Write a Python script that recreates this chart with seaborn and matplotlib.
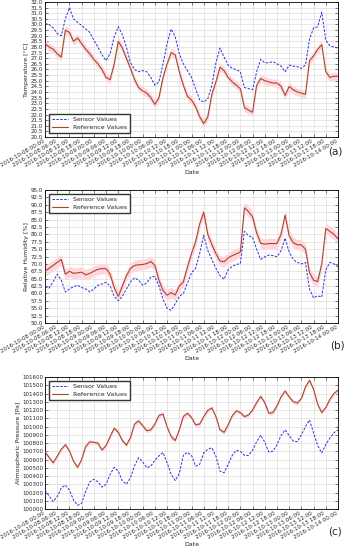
import numpy as np
import pandas as pd
import matplotlib
matplotlib.use('Agg')
import matplotlib.pyplot as plt
import matplotlib.dates as mdates
from matplotlib.ticker import MultipleLocator, FormatStrFormatter
import seaborn as sns

# 측정 시각 (2시간 간격, 2016-10-08 00:00 부터 144시간)
hours = list(range(0, 145, 2))

temp_sensor = [30.1, 30.0, 29.7, 29.2, 29.0, 30.5, 31.5, 30.5, 30.2, 29.9,
               29.6, 29.3, 28.6, 28.0, 27.3, 26.8, 27.4, 28.9, 29.8, 29.1,
               28.0, 26.6, 26.0, 25.8, 25.9, 25.8, 25.3, 24.6, 24.9, 26.5,
               28.3, 29.6, 28.9, 27.4, 26.5, 25.9, 25.3, 24.3, 23.3, 23.1,
               23.4, 24.6, 26.6, 27.9, 27.1, 26.4, 26.1, 26.0, 25.8, 24.4,
               24.3, 24.2, 25.8, 26.9, 26.6, 26.6, 26.7, 26.5, 26.3, 25.8,
               26.4, 26.3, 26.25, 26.1, 26.4, 28.7, 29.7, 29.8, 31.1, 28.6,
               28.1, 28.0, 27.9]
temp_reference = [28.3, 28.0, 27.8, 27.4, 27.1, 29.5, 29.3, 28.5, 28.8, 28.3,
                  27.8, 27.4, 26.9, 26.5, 26.0, 25.3, 25.1, 26.5, 28.5, 27.9,
                  27.0, 26.1, 25.1, 24.4, 24.1, 23.9, 23.5, 22.9, 23.5, 25.3,
                  26.5, 27.5, 27.3, 25.8, 24.6, 23.6, 23.3, 22.7, 21.8, 21.2,
                  21.8, 23.8, 24.9, 26.2, 25.9, 25.3, 24.9, 24.6, 24.3, 22.6,
                  22.4, 22.2, 24.6, 25.2, 25.0, 24.9, 24.8, 24.8, 24.5, 23.7,
                  24.5, 24.2, 24.0, 23.9, 23.8, 26.8, 27.2, 27.8, 28.2, 25.8,
                  25.3, 25.4, 25.4]

hum_sensor = [62.2, 61.8, 64.0, 66.5, 64.5, 60.5, 61.5, 62.3, 62.8, 62.0,
              61.5, 60.5, 61.5, 62.8, 63.2, 63.8, 62.5, 59.0, 57.5, 59.0,
              61.5, 63.9, 65.3, 64.5, 62.8, 63.5, 65.5, 65.8, 62.5, 58.0,
              55.0, 54.3, 56.5, 59.0, 60.0, 63.5, 67.0, 68.5, 73.5, 79.7,
              74.5, 71.5, 68.5, 66.0, 64.8, 68.0, 69.2, 69.8, 70.1, 81.0,
              79.5, 79.0, 75.0, 71.5, 72.4, 73.0, 72.8, 72.4, 74.5, 78.7,
              74.0, 71.5, 70.5, 70.0, 70.5, 61.5, 58.5, 59.2, 58.8, 68.0,
              70.5, 70.0, 69.0]
hum_reference = [67.5, 68.5, 69.5, 70.5, 71.5, 66.5, 67.5, 66.8, 67.0, 67.2,
                 66.3, 66.8, 67.5, 68.2, 68.4, 68.4, 66.5, 62.0, 59.0, 62.5,
                 66.0, 68.4, 69.5, 69.7, 69.8, 70.1, 70.8, 69.5, 64.5, 61.0,
                 59.4, 60.3, 59.5, 62.5, 63.9, 69.0, 73.5, 77.5, 83.5, 87.5,
                 80.0, 76.5, 73.5, 71.0, 70.7, 72.0, 72.8, 73.4, 74.0, 89.0,
                 87.7, 86.0, 80.5, 77.0, 76.7, 76.9, 76.9, 76.9, 80.0, 86.5,
                 79.5, 77.2, 76.5, 76.4, 75.0, 67.0, 64.5, 64.0, 70.0, 82.0,
                 81.0, 80.0, 78.5]

press_sensor = [100225, 100160, 100090, 100150, 100255, 100290, 100230, 100110, 100045, 100070,
                100215, 100330, 100360, 100330, 100266, 100300, 100420, 100505, 100460, 100340,
                100300, 100380, 100525, 100622, 100570, 100500, 100520, 100590, 100645, 100685,
                100560, 100420, 100345, 100430, 100653, 100686, 100650, 100520, 100540, 100680,
                100725, 100743, 100640, 100460, 100440, 100540, 100650, 100712, 100700, 100650,
                100650, 100715, 100815, 100895, 100810, 100690, 100700, 100780, 100890, 100960,
                100890, 100825, 100815, 100900, 101000, 101080, 100920, 100770, 100680, 100780,
                100860, 100925, 100960]
press_reference = [100694, 100625, 100560, 100640, 100725, 100780, 100705, 100580, 100505, 100600,
                   100760, 100815, 100808, 100798, 100715, 100770, 100878, 100980, 100930, 100830,
                   100775, 100865, 101030, 101068, 101010, 100950, 100960, 101030, 101135, 101150,
                   100995, 100880, 100830, 100960, 101123, 101160, 101110, 101020, 101030, 101120,
                   101195, 101225, 101120, 100960, 100930, 101020, 101130, 101190, 101170, 101120,
                   101140, 101200, 101290, 101365, 101290, 101160, 101170, 101250, 101360, 101430,
                   101360, 101300, 101286, 101340, 101480, 101560, 101450, 101270, 101170, 101230,
                   101330, 101400, 101440]

# 기준값 불확도 (분홍 밴드 반폭)
temp_band = 0.35
hum_band = 1.8
press_band = 25

times = pd.Timestamp('2016-10-08 00:00') + pd.to_timedelta(hours, unit='h')

sns.set_theme(style='whitegrid')
plt.rcParams['font.family'] = ['DejaVu Sans']
plt.rcParams['axes.edgecolor'] = 'black'
plt.rcParams['grid.color'] = '#d4d4d4'
plt.rcParams['grid.linewidth'] = 0.4

SENSOR_COLOR = '#2b2bdc'
REF_COLOR = '#a8462a'
BAND_COLOR = '#ffd6de'


def draw_panel(ax, sensor, reference, band, ylim, ystep, fmt, ylabel, legend_loc):
    df = pd.DataFrame({'Date': times, 'sensor': sensor, 'reference': reference})
    ref = np.array(reference, dtype=float)
    ax.fill_between(df['Date'], ref - band, ref + band, color=BAND_COLOR, lw=0, zorder=1)
    sns.lineplot(data=df, x='Date', y='sensor', ax=ax, color=SENSOR_COLOR, lw=0.7,
                 dashes=(2.5, 1.5), label='Sensor Values', zorder=4)
    sns.lineplot(data=df, x='Date', y='reference', ax=ax, color=REF_COLOR, lw=0.8,
                 label='Reference Values', zorder=3)

    ax.set_xlim(times[0], times[-1])
    ax.set_ylim(*ylim)
    ax.xaxis.set_major_locator(mdates.HourLocator(byhour=[0, 6, 12, 18]))
    ax.xaxis.set_major_formatter(mdates.DateFormatter('%Y-%m-%d %H:%M'))
    ax.yaxis.set_major_locator(MultipleLocator(ystep))
    ax.yaxis.set_major_formatter(FormatStrFormatter(fmt))
    ax.tick_params(axis='both', which='major', direction='in', length=2, width=0.4,
                   labelsize=4, pad=1.5, top=True, right=True, bottom=True, left=True)
    for lbl in ax.get_xticklabels():
        lbl.set_rotation(30)
        lbl.set_ha('right')
    for sp in ax.spines.values():
        sp.set_color('black')
        sp.set_linewidth(0.6)
    ax.grid(True, color='#d4d4d4', lw=0.4)
    ax.set_xlabel('Date', fontsize=4.5, labelpad=1)
    ax.set_ylabel(ylabel, fontsize=4.5, labelpad=1)
    ax.legend(loc=legend_loc, fontsize=4.5, frameon=True, fancybox=False,
              edgecolor='#333333', framealpha=1, handlelength=2.6, borderpad=0.5,
              labelspacing=0.4, borderaxespad=0.6)


fig = plt.figure(figsize=(3.47, 5.5), dpi=100)
ax_a = fig.add_axes([0.1297, 0.7509, 0.8444, 0.2455])
ax_b = fig.add_axes([0.1297, 0.4127, 0.8444, 0.2418])
ax_c = fig.add_axes([0.1297, 0.0745, 0.8444, 0.2400])

draw_panel(ax_a, temp_sensor, temp_reference, temp_band, (20, 32), 0.5, '%.1f',
           'Temperature [°C]', 'lower left')
draw_panel(ax_b, hum_sensor, hum_reference, hum_band, (50, 95), 2.5, '%.1f',
           'Relative Humidity [%]', 'upper left')
draw_panel(ax_c, press_sensor, press_reference, press_band, (100000, 101600), 100, '%d',
           'Atmospheric Pressure [Pa]', 'upper left')

fig.text(335 / 347, 1 - 152 / 550, '(a)', fontsize=7.5, ha='center', va='center')
fig.text(337 / 347, 1 - 345 / 550, '(b)', fontsize=7.5, ha='center', va='center')
fig.text(335 / 347, 1 - 532 / 550, '(c)', fontsize=7.5, ha='center', va='center')

fig.savefig('out.png', dpi=100, facecolor='white')
